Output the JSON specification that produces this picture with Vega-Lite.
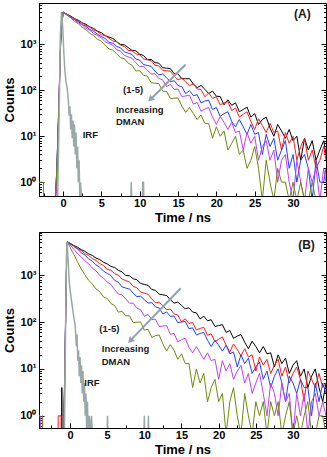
{
"$schema": "https://vega.github.io/schema/vega-lite/v6.json",
"padding": {"left": 3, "top": 2, "right": 2, "bottom": 0},
"background": "white",
"spacing": 6,
"config": {
  "font": "Liberation Sans",
  "view": {"stroke": "black", "strokeWidth": 1},
  "axis": {"grid": false, "labelFont": "Liberation Sans", "labelFontWeight": "bold", "labelFontSize": 11, "labelColor": "black", "titleFont": "Liberation Sans", "titleFontWeight": "bold", "titleFontSize": 13, "titleColor": "black", "domainColor": "black", "tickColor": "black", "labelOverlap": false, "titlePadding": 3},
  "axisX": {"labelPadding": 6},
  "axisY": {"labelPadding": 8}
},
"datasets": {
  "A": [
    {"t":-3.13,"s1":0.4,"s2":0.4,"s3":0.4,"s4":0.4,"s5":1},
    {"t":-2.55,"s1":0.4,"s2":0.4,"s3":0.4,"s4":0.4,"s5":1},
    {"t":-2.53,"s1":0.4,"s2":0.4,"s3":0.4,"s4":0.4,"s5":0.4},
    {"t":-1.0,"s1":0.4,"s2":0.4,"s3":0.4,"s4":0.4,"s5":0.4},
    {"t":-0.8,"s1":2,"s2":1,"s3":2,"s4":1,"s5":2},
    {"t":-0.55,"s1":40,"s2":35,"s3":45,"s4":50,"s5":40},
    {"t":-0.3,"s1":1200,"s2":1150,"s3":1250,"s4":1300,"s5":1200},
    {"t":0,"s1":5050,"s2":4980,"s3":5020,"s4":4990,"s5":5000},
    {"t":0.5,"s1":4480,"s2":4530,"s3":4400,"s4":4420,"s5":4290},
    {"t":1,"s1":4100,"s2":3980,"s3":3950,"s4":3800,"s5":3760},
    {"t":1.5,"s1":3620,"s2":3650,"s3":3440,"s4":3400,"s5":3160},
    {"t":2,"s1":3330,"s2":3200,"s3":3110,"s4":2920,"s5":2790},
    {"t":2.5,"s1":2930,"s2":2940,"s3":2700,"s4":2620,"s5":2340},
    {"t":3,"s1":2710,"s2":2570,"s3":2440,"s4":2230,"s5":2070},
    {"t":3.5,"s1":2380,"s2":2360,"s3":2100,"s4":2010,"s5":1730},
    {"t":4,"s1":2200,"s2":2060,"s3":1910,"s4":1710,"s5":1540},
    {"t":4.5,"s1":1920,"s2":1900,"s3":1650,"s4":1550,"s5":1280},
    {"t":5,"s1":1788,"s2":1620,"s3":1470,"s4":1378,"s5":1174},
    {"t":5.5,"s1":1535,"s2":1547,"s3":1331,"s4":1131,"s5":951},
    {"t":6,"s1":1435,"s2":1353,"s3":1102,"s4":1035,"s5":791},
    {"t":6.5,"s1":1340,"s2":1180,"s3":1057,"s4":950,"s5":745},
    {"t":7,"s1":1140,"s2":1127,"s3":897,"s4":765,"s5":620},
    {"t":7.5,"s1":995,"s2":964,"s3":838,"s4":707,"s5":512},
    {"t":8,"s1":971,"s2":889,"s3":682,"s4":573,"s5":485},
    {"t":8.5,"s1":847,"s2":734,"s3":639,"s4":534,"s5":389},
    {"t":9,"s1":737,"s2":725,"s3":599,"s4":496,"s5":350},
    {"t":9.5,"s1":720,"s2":618,"s3":477,"s4":395,"s5":263},
    {"t":10,"s1":611,"s2":590,"s3":452,"s4":328,"s5":266},
    {"t":10.5,"s1":569,"s2":480,"s3":362,"s4":330,"s5":211},
    {"t":11,"s1":462,"s2":460,"s3":346,"s4":274,"s5":202},
    {"t":11.5,"s1":470,"s2":441,"s3":330,"s4":225,"s5":146},
    {"t":12,"s1":399,"s2":349,"s3":260,"s4":228,"s5":142},
    {"t":12.5,"s1":388,"s2":338,"s3":215,"s4":180,"s5":139},
    {"t":13,"s1":309,"s2":271,"s3":226,"s4":168,"s5":95},
    {"t":13.5,"s1":302,"s2":266,"s3":188,"s4":120,"s5":95},
    {"t":14,"s1":296,"s2":258,"s3":153,"s4":134,"s5":66},
    {"t":14.5,"s1":229,"s2":203,"s3":162,"s4":104,"s5":67},
    {"t":15,"s1":227,"s2":168,"s3":126,"s4":106,"s5":68},
    {"t":15.5,"s1":178,"s2":183,"s3":120,"s4":73,"s5":45},
    {"t":16,"s1":178,"s2":152,"s3":84,"s4":75,"s5":33},
    {"t":16.5,"s1":178,"s2":126,"s3":98,"s4":78,"s5":42},
    {"t":17,"s1":136,"s2":137,"s3":76,"s4":50,"s5":31},
    {"t":17.5,"s1":114,"s2":107,"s3":80,"s4":54,"s5":23},
    {"t":18,"s1":127,"s2":104,"s3":53,"s4":35,"s5":29},
    {"t":18.5,"s1":105,"s2":72,"s3":58,"s4":39,"s5":19},
    {"t":19,"s1":85,"s2":87,"s3":61,"s4":42,"s5":19},
    {"t":19.5,"s1":96,"s2":67,"s3":38,"s4":26,"s5":9},
    {"t":20,"s1":74,"s2":72,"s3":42,"s4":18,"s5":16},
    {"t":20.5,"s1":73,"s2":48,"s3":27,"s4":27,"s5":10},
    {"t":21,"s1":48,"s2":53,"s3":31,"s4":20,"s5":13},
    {"t":21.5,"s1":62,"s2":57,"s3":34,"s4":14,"s5":5},
    {"t":22,"s1":47,"s2":36,"s3":21,"s4":20,"s5":7},
    {"t":22.5,"s1":53,"s2":41,"s3":16,"s4":12,"s5":10},
    {"t":23,"s1":34,"s2":26,"s3":23,"s4":13,"s5":4},
    {"t":23.5,"s1":38,"s2":30,"s3":16,"s4":5,"s5":5},
    {"t":24,"s1":43,"s2":34,"s3":11,"s4":12,"s5":2},
    {"t":24.5,"s1":26,"s2":21,"s3":18,"s4":7,"s5":3},
    {"t":25,"s1":31,"s2":14,"s3":11,"s4":10,"s5":6},
    {"t":25.5,"s1":18,"s2":24,"s3":12,"s4":3,"s5":2},
    {"t":26,"s1":23,"s2":17,"s3":4,"s4":6,"s5":0.4},
    {"t":26.5,"s1":26,"s2":12,"s3":11,"s4":8,"s5":3},
    {"t":27,"s1":15,"s2":19,"s3":6,"s4":3,"s5":1},
    {"t":27.5,"s1":10,"s2":12,"s3":9,"s4":5,"s5":0.4},
    {"t":28,"s1":18,"s2":13,"s3":3,"s4":1,"s5":2},
    {"t":28.5,"s1":13,"s2":5,"s3":5,"s4":3,"s5":1},
    {"t":29,"s1":9,"s2":12,"s3":8,"s4":4,"s5":1},
    {"t":29.5,"s1":14,"s2":7,"s3":2,"s4":1,"s5":0.4},
    {"t":30,"s1":8,"s2":10,"s3":4,"s4":0.4,"s5":1},
    {"t":30.5,"s1":10,"s2":3,"s3":1,"s4":3,"s5":0.4},
    {"t":31,"s1":3,"s2":6,"s3":3,"s4":1,"s5":1},
    {"t":31.5,"s1":9,"s2":9,"s3":4,"s4":0.4,"s5":0.4},
    {"t":32,"s1":5,"s2":3,"s3":2,"s4":2,"s5":0.4},
    {"t":32.5,"s1":8,"s2":5,"s3":0.4,"s4":1,"s5":1},
    {"t":33,"s1":3,"s2":2,"s3":3,"s4":2,"s5":0.4},
    {"t":33.5,"s1":5,"s2":3,"s3":1,"s4":0.4,"s5":0.4},
    {"t":34,"s1":8,"s2":6,"s3":1,"s4":2,"s5":0.4},
    {"t":34.3,"s1":4,"s2":3,"s3":2,"s4":1,"s5":0.4}
  ],
  "B": [
    {"t":-4.17,"s1":0.4,"s2":0.4,"s3":0.4,"s4":1,"s5":0.4},
    {"t":-4.0,"s1":0.4,"s2":0.4,"s3":0.4,"s4":1,"s5":0.4},
    {"t":-3.98,"s1":0.4,"s2":0.4,"s3":0.4,"s4":0.4,"s5":0.4},
    {"t":-3.75,"s1":0.4,"s2":0.4,"s3":0.4,"s4":0.4,"s5":0.4},
    {"t":-3.74,"s1":0.4,"s2":0.4,"s3":0.4,"s4":0.4,"s5":1},
    {"t":-3.68,"s1":0.4,"s2":0.4,"s3":0.4,"s4":0.4,"s5":1},
    {"t":-3.67,"s1":0.4,"s2":0.4,"s3":0.4,"s4":0.4,"s5":0.4},
    {"t":-1.6,"s1":0.4,"s2":0.4,"s3":0.4,"s4":0.4,"s5":0.4},
    {"t":-1.59,"s1":0.4,"s2":1,"s3":0.4,"s4":0.4,"s5":0.4},
    {"t":-1.2,"s1":0.4,"s2":1,"s3":0.4,"s4":0.4,"s5":0.4},
    {"t":-1.19,"s1":0.4,"s2":0.4,"s3":0.4,"s4":0.4,"s5":0.4},
    {"t":-1.12,"s1":0.4,"s2":0.4,"s3":0.4,"s4":0.4,"s5":0.4},
    {"t":-1.1,"s1":4,"s2":0.4,"s3":0.4,"s4":0.4,"s5":0.4},
    {"t":-1.08,"s1":0.4,"s2":0.4,"s3":0.4,"s4":0.4,"s5":0.4},
    {"t":-0.9,"s1":0.4,"s2":0.4,"s3":0.4,"s4":0.4,"s5":0.4},
    {"t":-0.75,"s1":3,"s2":2,"s3":4,"s4":3,"s5":2},
    {"t":-0.6,"s1":90,"s2":80,"s3":100,"s4":85,"s5":95},
    {"t":-0.45,"s1":2200,"s2":2100,"s3":2300,"s4":2150,"s5":2250},
    {"t":-0.35,"s1":5100,"s2":5100,"s3":5100,"s4":5100,"s5":5100},
    {"t":0,"s1":4800,"s2":4700,"s3":4650,"s4":4400,"s5":3950},
    {"t":0.5,"s1":4290,"s2":4260,"s3":4080,"s4":3580,"s5":2790},
    {"t":1,"s1":3940,"s2":3700,"s3":3590,"s4":2850,"s5":1930},
    {"t":1.5,"s1":3490,"s2":3340,"s3":3020,"s4":2460,"s5":1360},
    {"t":2,"s1":3220,"s2":2890,"s3":2660,"s4":2010,"s5":1020},
    {"t":2.5,"s1":2840,"s2":2620,"s3":2230,"s4":1750,"s5":775},
    {"t":3,"s1":2630,"s2":2250,"s3":1980,"s4":1410,"s5":648},
    {"t":3.5,"s1":2310,"s2":2050,"s3":1650,"s4":1230,"s5":505},
    {"t":4,"s1":2150,"s2":1760,"s3":1470,"s4":985,"s5":445},
    {"t":4.5,"s1":1880,"s2":1610,"s3":1220,"s4":865,"s5":342},
    {"t":5,"s1":1733,"s2":1333,"s3":1084,"s4":714,"s5":318},
    {"t":5.5,"s1":1528,"s2":1268,"s3":978,"s4":635,"s5":249},
    {"t":6,"s1":1459,"s2":1079,"s3":774,"s4":494,"s5":225},
    {"t":6.5,"s1":1264,"s2":1002,"s3":703,"s4":396,"s5":162},
    {"t":7,"s1":1170,"s2":821,"s3":560,"s4":379,"s5":170},
    {"t":7.5,"s1":984,"s2":764,"s3":531,"s4":311,"s5":136},
    {"t":8,"s1":967,"s2":713,"s3":504,"s4":253,"s5":136},
    {"t":8.5,"s1":836,"s2":573,"s3":410,"s4":251,"s5":97},
    {"t":9,"s1":798,"s2":537,"s3":347,"s4":197,"s5":99},
    {"t":9.5,"s1":663,"s2":435,"s3":355,"s4":183,"s5":100},
    {"t":10,"s1":633,"s2":412,"s3":301,"s4":132,"s5":67},
    {"t":10.5,"s1":606,"s2":390,"s3":253,"s4":145,"s5":70},
    {"t":11,"s1":493,"s2":311,"s3":259,"s4":113,"s5":47},
    {"t":11.5,"s1":474,"s2":257,"s3":210,"s4":115,"s5":51},
    {"t":12,"s1":391,"s2":266,"s3":199,"s4":80,"s5":53},
    {"t":12.5,"s1":380,"s2":222,"s3":148,"s4":82,"s5":34},
    {"t":13,"s1":367,"s2":183,"s3":164,"s4":84,"s5":24},
    {"t":13.5,"s1":298,"s2":189,"s3":132,"s4":55,"s5":33},
    {"t":14,"s1":252,"s2":149,"s3":134,"s4":57,"s5":25},
    {"t":14.5,"s1":266,"s2":141,"s3":97,"s4":38,"s5":16},
    {"t":15,"s1":227,"s2":101,"s3":100,"s4":42,"s5":21},
    {"t":15.5,"s1":191,"s2":117,"s3":103,"s4":45,"s5":13},
    {"t":16,"s1":202,"s2":93,"s3":72,"s4":29,"s5":13},
    {"t":16.5,"s1":163,"s2":98,"s3":75,"s4":22,"s5":4},
    {"t":17,"s1":157,"s2":68,"s3":53,"s4":30,"s5":10},
    {"t":17.5,"s1":116,"s2":73,"s3":57,"s4":22,"s5":5},
    {"t":18,"s1":133,"s2":77,"s3":60,"s4":16,"s5":8},
    {"t":18.5,"s1":106,"s2":52,"s3":41,"s4":22,"s5":2},
    {"t":19,"s1":112,"s2":56,"s3":30,"s4":15,"s5":4},
    {"t":19.5,"s1":80,"s2":38,"s3":41,"s4":16,"s5":6},
    {"t":20,"s1":84,"s2":43,"s3":32,"s4":6,"s5":2},
    {"t":20.5,"s1":88,"s2":48,"s3":24,"s4":15,"s5":3},
    {"t":21,"s1":60,"s2":32,"s3":32,"s4":9,"s5":0.4},
    {"t":21.5,"s1":66,"s2":23,"s3":21,"s4":13,"s5":2},
    {"t":22,"s1":45,"s2":34,"s3":23,"s4":6,"s5":4},
    {"t":22.5,"s1":50,"s2":26,"s3":11,"s4":9,"s5":1},
    {"t":23,"s1":54,"s2":19,"s3":20,"s4":12,"s5":0.4},
    {"t":23.5,"s1":37,"s2":27,"s3":13,"s4":5,"s5":3},
    {"t":24,"s1":27,"s2":18,"s3":17,"s4":8,"s5":1},
    {"t":24.5,"s1":39,"s2":20,"s3":8,"s4":3,"s5":0.4},
    {"t":25,"s1":30,"s2":9,"s3":11,"s4":5,"s5":2},
    {"t":25.5,"s1":22,"s2":18,"s3":14,"s4":8,"s5":1},
    {"t":26,"s1":30,"s2":12,"s3":6,"s4":3,"s5":2},
    {"t":26.5,"s1":21,"s2":16,"s3":9,"s4":1,"s5":0.4},
    {"t":27,"s1":22,"s2":8,"s3":4,"s4":5,"s5":2},
    {"t":27.5,"s1":11,"s2":12,"s3":7,"s4":3,"s5":1},
    {"t":28,"s1":20,"s2":16,"s3":10,"s4":1,"s5":2},
    {"t":28.5,"s1":13,"s2":7,"s3":5,"s4":5,"s5":0.4},
    {"t":29,"s1":17,"s2":11,"s3":2,"s4":2,"s5":1},
    {"t":29.5,"s1":8,"s2":5,"s3":7,"s4":3,"s5":2},
    {"t":30,"s1":12,"s2":8,"s3":5,"s4":0.4,"s5":0.4},
    {"t":30.5,"s1":15,"s2":11,"s3":3,"s4":3,"s5":1},
    {"t":31,"s1":7,"s2":6,"s3":6,"s4":1,"s5":0.4},
    {"t":31.5,"s1":10,"s2":2,"s3":4,"s4":3,"s5":1},
    {"t":32,"s1":4,"s2":9,"s3":4,"s4":0.4,"s5":2},
    {"t":32.5,"s1":7,"s2":6,"s3":1,"s4":2,"s5":0.4},
    {"t":33,"s1":10,"s2":4,"s3":5,"s4":3,"s5":0.4},
    {"t":33.5,"s1":4,"s2":8,"s3":2,"s4":1,"s5":1},
    {"t":34,"s1":2,"s2":4,"s3":5,"s4":2,"s5":1},
    {"t":34.44,"s1":5,"s2":5,"s3":3,"s4":1,"s5":0.4}
  ],
  "irfA": [
    {"t":-3.13,"c":0.4},{"t":-0.7,"c":0.4},{"t":-0.5,"c":30},{"t":-0.35,"c":1500},{"t":-0.2,"c":5000},{"t":-0.05,"c":2600},{"t":0.1,"c":700},{"t":0.25,"c":260},{"t":0.4,"c":150},{"t":0.55,"c":110},{"t":0.7,"c":60},{"t":0.8,"c":28},{"t":0.9,"c":45},{"t":1.0,"c":14},{"t":1.1,"c":30},{"t":1.2,"c":9},{"t":1.3,"c":22},{"t":1.4,"c":6},{"t":1.5,"c":18},{"t":1.6,"c":4},{"t":1.7,"c":12},{"t":1.8,"c":2},{"t":1.9,"c":6},{"t":2.0,"c":1},{"t":2.1,"c":3},{"t":2.2,"c":0.4},{"t":2.3,"c":1},{"t":2.4,"c":0.4},{"t":8.85,"c":0.4},{"t":8.9,"c":1},{"t":8.95,"c":0.4},{"t":10.35,"c":0.4},{"t":10.4,"c":1},{"t":10.5,"c":1},{"t":10.55,"c":0.4},{"t":34.3,"c":0.4}
  ],
  "irfB": [
    {"t":-4.17,"c":0.4},{"t":-0.75,"c":0.4},{"t":-0.6,"c":60},{"t":-0.48,"c":2500},{"t":-0.38,"c":5000},{"t":-0.25,"c":2000},{"t":-0.1,"c":700},{"t":0.1,"c":380},{"t":0.3,"c":220},{"t":0.5,"c":130},{"t":0.7,"c":85},{"t":0.85,"c":30},{"t":0.95,"c":55},{"t":1.05,"c":15},{"t":1.15,"c":25},{"t":1.25,"c":7},{"t":1.35,"c":18},{"t":1.45,"c":5},{"t":1.55,"c":12},{"t":1.65,"c":3},{"t":1.75,"c":9},{"t":1.85,"c":2},{"t":1.95,"c":5},{"t":2.05,"c":1},{"t":2.15,"c":3},{"t":2.25,"c":0.4},{"t":2.35,"c":2},{"t":2.45,"c":0.4},{"t":2.6,"c":1},{"t":2.7,"c":0.4},{"t":2.9,"c":1},{"t":3.0,"c":0.4},{"t":5.0,"c":0.4},{"t":5.05,"c":1},{"t":5.1,"c":0.4},{"t":9.95,"c":0.4},{"t":10.0,"c":1},{"t":10.05,"c":0.4},{"t":10.5,"c":0.4},{"t":10.55,"c":1},{"t":10.6,"c":0.4},{"t":34.44,"c":0.4}
  ]
},
"vconcat": [
  {
    "width": 287, "height": 193,
    "resolve": {"axis": {"x": "independent", "y": "independent"}},
    "layer": [
      {
        "data": {"name": "A"},
        "transform": [{"fold": ["s1","s2","s3","s4","s5"], "as": ["series","c"]}],
        "mark": {"type": "line", "strokeWidth": 1, "clip": true},
        "encoding": {
          "x": {"field": "t", "type": "quantitative", "scale": {"domain": [-3.13, 34.3], "nice": false, "zero": false},
                "axis": {"orient": "bottom", "title": "Time / ns", "values": [-2.5,0,2.5,5,7.5,10,12.5,15,17.5,20,22.5,25,27.5,30,32.5],
                         "labelExpr": "datum.value % 5 == 0 ? format(datum.value, 'd') : ''",
                         "labelFontSize": {"condition": {"test": "datum.value % 5 == 0", "value": 11}, "value": 0},
                         "tickSize": {"condition": {"test": "datum.value % 5 == 0", "value": -5}, "value": -3}}},
          "y": {"field": "c", "type": "quantitative", "scale": {"type": "log", "domain": [0.5, 7900], "nice": false},
                "axis": {"orient": "left", "title": "Counts", "values": [0.5,0.6,0.7,0.8,0.9,1,2,3,4,5,6,7,8,9,10,20,30,40,50,60,70,80,90,100,200,300,400,500,600,700,800,900,1000,2000,3000,4000,5000,6000,7000],
                         "labelExpr": "datum.value == 1 ? '10⁰' : datum.value == 10 ? '10¹' : datum.value == 100 ? '10²' : datum.value == 1000 ? '10³' : ''",
                         "labelFontSize": {"condition": {"test": "datum.value == 1 || datum.value == 10 || datum.value == 100 || datum.value == 1000", "value": 11}, "value": 0},
                         "tickSize": {"condition": {"test": "datum.value == 1 || datum.value == 10 || datum.value == 100 || datum.value == 1000", "value": -5}, "value": -2.5}}},
          "color": {"field": "series", "type": "nominal", "scale": {"domain": ["s1","s2","s3","s4","s5"], "range": ["#000000","#ff1a1a","#2040ff","#c23ff0","#6e8b0c"]}, "legend": null}
        }
      },
      {
        "data": {"name": "irfA"},
        "mark": {"type": "line", "color": "#9ca8a8", "strokeWidth": 1.5, "clip": true},
        "encoding": {
          "x": {"field": "t", "type": "quantitative", "axis": null},
          "y": {"field": "c", "type": "quantitative",
                "axis": {"orient": "right", "labels": false, "title": null, "domain": false, "minExtent": 0, "maxExtent": 0, "values": [0.5,0.6,0.7,0.8,0.9,1,2,3,4,5,6,7,8,9,10,20,30,40,50,60,70,80,90,100,200,300,400,500,600,700,800,900,1000,2000,3000,4000,5000,6000,7000],
                         "tickSize": {"condition": {"test": "datum.value == 1 || datum.value == 10 || datum.value == 100 || datum.value == 1000", "value": -5}, "value": -2.5}}}
        }
      },
      {
        "data": {"values": [{"t": 16.0, "c": 363, "t2": 11.4, "c2": 63}]},
        "mark": {"type": "rule", "color": "#8fa3ad", "strokeWidth": 2},
        "encoding": {
          "x": {"field": "t", "type": "quantitative", "axis": null},
          "y": {"field": "c", "type": "quantitative", "axis": null},
          "x2": {"field": "t2"}, "y2": {"field": "c2"}
        }
      },
      {
        "data": {"values": [{"t": 11.4, "c": 63}]},
        "mark": {"type": "point", "shape": "triangle-up", "filled": true, "color": "#8fa3ad", "opacity": 1, "size": 50, "angle": 225},
        "encoding": {
          "x": {"field": "t", "type": "quantitative", "axis": null},
          "y": {"field": "c", "type": "quantitative", "axis": null}
        }
      },
      {
        "data": {"values": [{"t": 7.83, "c": 102, "label": "(1-5)"}, {"t": 6.91, "c": 37.5, "label": "Increasing"}, {"t": 6.91, "c": 20.1, "label": "DMAN"}, {"t": 2.57, "c": 10.7, "label": "IRF"}]},
        "mark": {"type": "text", "align": "left", "baseline": "middle", "font": "Liberation Sans", "fontWeight": "bold", "fontSize": 9.5, "color": "#1a1a1a"},
        "encoding": {
          "x": {"field": "t", "type": "quantitative", "axis": null},
          "y": {"field": "c", "type": "quantitative", "axis": null},
          "text": {"field": "label"}
        }
      },
      {
        "data": {"values": [{"t": 30.13, "c": 4645, "label": "(A)"}]},
        "mark": {"type": "text", "align": "left", "baseline": "middle", "font": "Liberation Sans", "fontWeight": "bold", "fontSize": 12, "color": "#1a1a1a"},
        "encoding": {
          "x": {"field": "t", "type": "quantitative", "axis": null},
          "y": {"field": "c", "type": "quantitative", "axis": null},
          "text": {"field": "label"}
        }
      }
    ]
  },
  {
    "width": 287, "height": 196,
    "resolve": {"axis": {"x": "independent", "y": "independent"}},
    "layer": [
      {
        "data": {"name": "B"},
        "transform": [{"fold": ["s1","s2","s3","s4","s5"], "as": ["series","c"]}],
        "mark": {"type": "line", "strokeWidth": 1, "clip": true},
        "encoding": {
          "x": {"field": "t", "type": "quantitative", "scale": {"domain": [-4.17, 34.44], "nice": false, "zero": false},
                "axis": {"orient": "bottom", "title": "Time / ns", "values": [-2.5,0,2.5,5,7.5,10,12.5,15,17.5,20,22.5,25,27.5,30,32.5],
                         "labelExpr": "datum.value % 5 == 0 ? format(datum.value, 'd') : ''",
                         "labelFontSize": {"condition": {"test": "datum.value % 5 == 0", "value": 11}, "value": 0},
                         "tickSize": {"condition": {"test": "datum.value % 5 == 0", "value": -5}, "value": -3}}},
          "y": {"field": "c", "type": "quantitative", "scale": {"type": "log", "domain": [0.55, 8300], "nice": false},
                "axis": {"orient": "left", "title": "Counts", "values": [0.6,0.7,0.8,0.9,1,2,3,4,5,6,7,8,9,10,20,30,40,50,60,70,80,90,100,200,300,400,500,600,700,800,900,1000,2000,3000,4000,5000,6000,7000,8000],
                         "labelExpr": "datum.value == 1 ? '10⁰' : datum.value == 10 ? '10¹' : datum.value == 100 ? '10²' : datum.value == 1000 ? '10³' : ''",
                         "labelFontSize": {"condition": {"test": "datum.value == 1 || datum.value == 10 || datum.value == 100 || datum.value == 1000", "value": 11}, "value": 0},
                         "tickSize": {"condition": {"test": "datum.value == 1 || datum.value == 10 || datum.value == 100 || datum.value == 1000", "value": -5}, "value": -2.5}}},
          "color": {"field": "series", "type": "nominal", "scale": {"domain": ["s1","s2","s3","s4","s5"], "range": ["#000000","#ff1a1a","#2040ff","#c23ff0","#6e8b0c"]}, "legend": null}
        }
      },
      {
        "data": {"name": "irfB"},
        "mark": {"type": "line", "color": "#9ca8a8", "strokeWidth": 1.5, "clip": true},
        "encoding": {
          "x": {"field": "t", "type": "quantitative", "axis": null},
          "y": {"field": "c", "type": "quantitative",
                "axis": {"orient": "right", "labels": false, "title": null, "domain": false, "minExtent": 0, "maxExtent": 0, "values": [0.6,0.7,0.8,0.9,1,2,3,4,5,6,7,8,9,10,20,30,40,50,60,70,80,90,100,200,300,400,500,600,700,800,900,1000,2000,3000,4000,5000,6000,7000,8000],
                         "tickSize": {"condition": {"test": "datum.value == 1 || datum.value == 10 || datum.value == 100 || datum.value == 1000", "value": -5}, "value": -2.5}}}
        }
      },
      {
        "data": {"values": [{"t": 14.9, "c": 525, "t2": 8.1, "c2": 40}]},
        "mark": {"type": "rule", "color": "#8fa3ad", "strokeWidth": 2},
        "encoding": {
          "x": {"field": "t", "type": "quantitative", "axis": null},
          "y": {"field": "c", "type": "quantitative", "axis": null},
          "x2": {"field": "t2"}, "y2": {"field": "c2"}
        }
      },
      {
        "data": {"values": [{"t": 8.1, "c": 40}]},
        "mark": {"type": "point", "shape": "triangle-up", "filled": true, "color": "#8fa3ad", "opacity": 1, "size": 50, "angle": 224},
        "encoding": {
          "x": {"field": "t", "type": "quantitative", "axis": null},
          "y": {"field": "c", "type": "quantitative", "axis": null}
        }
      },
      {
        "data": {"values": [{"t": 3.95, "c": 72, "label": "(1-5)"}, {"t": 4.27, "c": 26, "label": "Increasing"}, {"t": 4.27, "c": 13.9, "label": "DMAN"}, {"t": 1.93, "c": 5.0, "label": "IRF"}]},
        "mark": {"type": "text", "align": "left", "baseline": "middle", "font": "Liberation Sans", "fontWeight": "bold", "fontSize": 9.5, "color": "#1a1a1a"},
        "encoding": {
          "x": {"field": "t", "type": "quantitative", "axis": null},
          "y": {"field": "c", "type": "quantitative", "axis": null},
          "text": {"field": "label"}
        }
      },
      {
        "data": {"values": [{"t": 30.7, "c": 4360, "label": "(B)"}]},
        "mark": {"type": "text", "align": "left", "baseline": "middle", "font": "Liberation Sans", "fontWeight": "bold", "fontSize": 12, "color": "#1a1a1a"},
        "encoding": {
          "x": {"field": "t", "type": "quantitative", "axis": null},
          "y": {"field": "c", "type": "quantitative", "axis": null},
          "text": {"field": "label"}
        }
      }
    ]
  }
]
}
